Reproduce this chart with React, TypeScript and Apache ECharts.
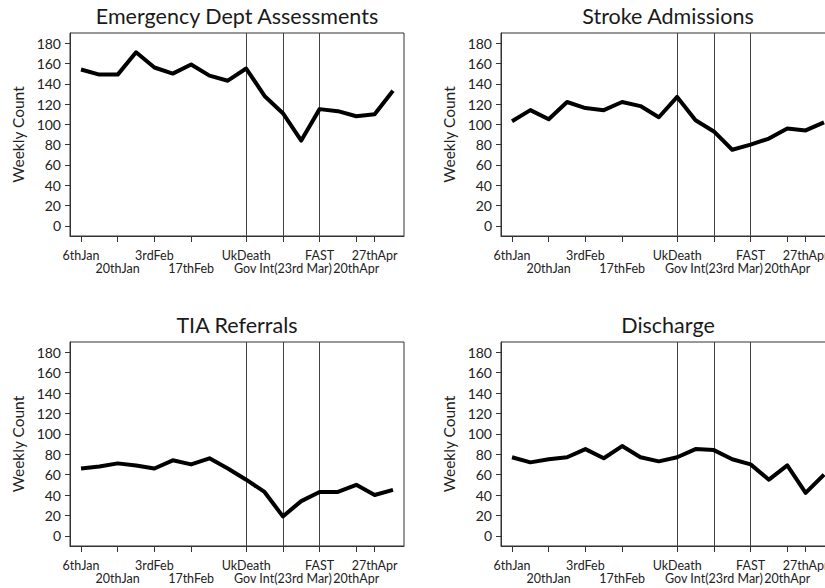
import React, { useEffect, useRef } from "react";
import * as echarts from "echarts";

// week index since 6th Jan
const weeks = [0, 1, 2, 3, 4, 5, 6, 7, 8, 9, 10, 11, 12, 13, 14, 15, 16, 17];

const edAssessments = [154, 149, 149, 171, 156, 150, 159, 148, 143, 155, 128, 111, 84, 115, 113, 108, 110, 133];
const strokeAdmissions = [103, 114, 105, 122, 116, 114, 122, 118, 107, 127, 104, 93, 75, 80, 86, 96, 94, 102];
const tiaReferrals = [66, 68, 71, 69, 66, 74, 70, 76, 66, 55, 43, 19, 34, 43, 43, 50, 40, 45];
const discharge = [77, 72, 75, 77, 85, 76, 88, 77, 73, 77, 85, 84, 75, 70, 55, 69, 42, 60];

const panelTitles = ["Emergency Dept Assessments", "Stroke Admissions", "TIA Referrals", "Discharge"];

const tickWeeks = [0, 2, 4, 6, 9, 11, 13, 15, 16];
const tickLabels = ["6thJan", "20thJan", "3rdFeb", "17thFeb", "UkDeath", "Gov Int(23rd Mar)", "FAST", "20thApr", "27thApr"];
const tickRow = [0, 1, 0, 1, 0, 1, 0, 1, 0];

const eventWeeks = [9, 11, 13];

const yTicks = [0, 20, 40, 60, 80, 100, 120, 140, 160, 180];

const FONT = "Lato, 'Open Sans', sans-serif";

export default function App() {
  const ref = useRef<HTMLDivElement>(null);

  useEffect(() => {
    if (!ref.current) return;
    const chart = echarts.init(ref.current, null, { renderer: "svg" });

    const seriesValues = [edAssessments, strokeAdmissions, tiaReferrals, discharge];
    const grids = [
      { left: 70, top: 33, width: 334, height: 203 },
      { left: 501, top: 33, width: 334, height: 203 },
      { left: 70, top: 342, width: 334, height: 204 },
      { left: 501, top: 342, width: 334, height: 204 },
    ];

    const rowWeeks = (row: number) => tickWeeks.filter((_, k) => tickRow[k] === row);
    const labelOf = (v: number) => {
      const k = tickWeeks.indexOf(v);
      return k < 0 ? "" : tickLabels[k];
    };

    const makeXAxis = (gridIndex: number, row: number) => ({
      type: "value",
      gridIndex,
      position: "bottom",
      min: -0.6,
      max: 17.6,
      splitLine: { show: false },
      axisLine: { show: row === 0, onZero: false, lineStyle: { color: "#333", width: 1 } },
      axisTick: {
        show: true,
        length: 6,
        customValues: rowWeeks(row),
        lineStyle: { color: "#333", width: 1 },
      },
      axisLabel: {
        customValues: rowWeeks(row),
        showMinLabel: true,
        showMaxLabel: true,
        hideOverlap: false,
        fontSize: 12.5,
        lineHeight: 14,
        margin: row === 0 ? 12 : 25.5,
        color: "#222",
        fontFamily: FONT,
        formatter: labelOf,
      },
    });

    const xAxes: any[] = [];
    grids.forEach((_, i) => {
      xAxes.push(makeXAxis(i, 0));
      xAxes.push(makeXAxis(i, 1));
    });

    const option: any = {
      animation: false,
      backgroundColor: "#ffffff",
      textStyle: { fontFamily: FONT },
      grid: grids.map((g) => ({
        ...g,
        show: true,
        borderColor: "#333",
        borderWidth: 1,
        backgroundColor: "transparent",
      })),
      graphic: grids.map((g, i) => ({
        type: "text",
        x: g.left + g.width / 2,
        y: g.top - 17,
        silent: true,
        style: {
          text: panelTitles[i],
          fill: "#1a1a1a",
          font: `21.5px ${FONT}`,
          align: "center",
          verticalAlign: "middle",
          textAlign: "center",
          textVerticalAlign: "middle",
        },
      })),
      xAxis: xAxes,
      yAxis: grids.map((_, i) => ({
        type: "value",
        gridIndex: i,
        min: -10,
        max: 190,
        name: "Weekly Count",
        nameLocation: "middle",
        nameRotate: 90,
        nameGap: 44,
        nameTextStyle: { fontSize: 15.5, color: "#222", fontFamily: FONT },
        splitLine: { show: false },
        axisLine: { show: true, onZero: false, lineStyle: { color: "#333", width: 1 } },
        axisTick: {
          show: true,
          length: 5,
          customValues: yTicks,
          lineStyle: { color: "#333", width: 1 },
        },
        axisLabel: {
          customValues: yTicks,
          showMinLabel: true,
          showMaxLabel: true,
          fontSize: 14,
          margin: 9,
          color: "#222",
          fontFamily: FONT,
        },
      })),
      series: seriesValues.map((vals, i) => ({
        type: "line",
        xAxisIndex: i * 2,
        yAxisIndex: i,
        data: weeks.map((w, j) => [w, vals[j]]),
        showSymbol: false,
        symbol: "none",
        lineStyle: { color: "#000", width: 4, join: "round" },
        itemStyle: { color: "#000" },
        z: 3,
        markLine: {
          silent: true,
          symbol: ["none", "none"],
          label: { show: false },
          lineStyle: { color: "#444", width: 1, type: "solid" },
          emphasis: { disabled: true },
          data: eventWeeks.map((w) => ({ xAxis: w })),
          z: 2,
        },
      })),
    };

    chart.setOption(option);
    return () => chart.dispose();
  }, []);

  return (
    <div
      style={{
        position: "fixed",
        left: 0,
        top: 0,
        width: 825,
        height: 588,
        overflow: "hidden",
        background: "#fff",
      }}
    >
      <div ref={ref} style={{ width: 850, height: 588 }} />
    </div>
  );
}
